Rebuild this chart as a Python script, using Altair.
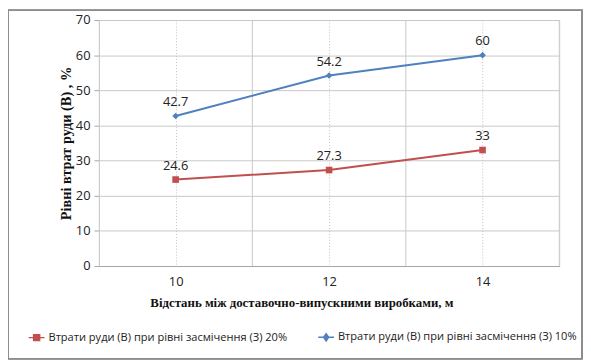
import altair as alt
import pandas as pd

distances = [10, 12, 14]
series_names = [
    "Втрати руди (В) при рівні засмічення (З) 20%",
    "Втрати руди (В) при рівні засмічення (З) 10%",
]
losses_20 = [24.6, 27.3, 33]
losses_10 = [42.7, 54.2, 60]
band_edges = [11, 13, 15]
colors = ["#C0504D", "#4F81BD"]
marker_shapes = ["square", "diamond"]

rows = []
for d, v in zip(distances, losses_20):
    rows.append({"x": d, "y": v, "s": series_names[0], "lab": f"{v:g}"})
for d, v in zip(distances, losses_10):
    rows.append({"x": d, "y": v, "s": series_names[1], "lab": f"{v:g}"})
df = pd.DataFrame(rows)
edges = pd.DataFrame({"x": band_edges})

W, H = 466, 249
PL, PT = 92, 10
TW, TH = 582, 354

xs = alt.Scale(domain=[9, 15], nice=False, zero=False)
ys = alt.Scale(domain=[0, 70], nice=False)

sans = "Open Sans"
serif = "Liberation Serif"

x_axis = alt.Axis(
    values=distances, format="d", title="Відстань між  доставочно-випускними виробками, м",
    grid=True, gridDash=[1, 2], gridColor="#BFBFBF", ticks=False,
    domainColor="#A6A6A6", labelFont=sans, labelFontSize=13, labelColor="#222",
    labelPadding=10, titleFont=serif, titleFontSize=13, titleFontWeight="bold",
    titleColor="#111", titleX=205, titleY=31, titleBaseline="top", titleAnchor="middle",
)
y_axis = alt.Axis(
    values=list(range(0, 71, 10)), format="d", title="Рівні втрат руди (В) , %",
    grid=True, gridColor="#C8C8C8", tickColor="#A6A6A6", tickSize=5,
    domainColor="#C8C8C8", labelFont=sans, labelFontSize=13, labelColor="#222",
    labelPadding=4, labelOverlap=False, titleFont=serif, titleFontSize=14.5,
    titleFontWeight="bold", titleColor="#111", titlePadding=2,
)

X = alt.X("x:Q", scale=xs, axis=x_axis)
Y = alt.Y("y:Q", scale=ys, axis=y_axis)

base = alt.Chart(df)

frame = alt.Chart(edges).mark_rect(fill=None, stroke="#8C8C8C", strokeWidth=1.5).encode(
    x=alt.value(-PL), x2=alt.value(TW - PL - 1), y=alt.value(-PT), y2=alt.value(TH - PT - 1)
)

vlines = alt.Chart(edges).mark_rule(color="#C8C8C8", strokeWidth=1).encode(x=X)

series_layers = []
for name, col, shp in zip(series_names, colors, marker_shapes):
    sub = base.transform_filter(alt.datum.s == name)
    series_layers.append(sub.mark_line(strokeWidth=2, color=col).encode(x=X, y=Y))
    series_layers.append(
        sub.mark_point(filled=True, opacity=1, size=45, strokeWidth=1, color=col, shape=shp).encode(x=X, y=Y)
    )

labels = base.mark_text(baseline="bottom", dy=-7, font=sans, fontSize=13, color="#222").encode(
    x=X, y=Y, text="lab:N"
)

leg = alt.Legend(
    title=None, orient="none", direction="horizontal", legendX=-72, legendY=312,
    labelFont=sans, labelFontSize=11.2, labelColor="#222", labelLimit=400,
    symbolSize=256, symbolStrokeWidth=1.5, columnPadding=28, labelOffset=3,
    symbolOpacity=1,
)
legend_scale_color = alt.Scale(domain=series_names, range=colors)
legend_layer = base.transform_filter("false").mark_point(
    filled=False, size=256, strokeWidth=1.5, opacity=1
).encode(
    x=X, y=Y,
    stroke=alt.Stroke("s:N", scale=legend_scale_color, legend=leg),
    fill=alt.Fill("s:N", scale=legend_scale_color, legend=leg),
    shape=alt.Shape(
        "s:N",
        scale=alt.Scale(
            domain=series_names,
            range=[
                "M-1,0H-0.4M0.4,0H1M-0.38,-0.38H0.38V0.38H-0.38Z",
                "M-1,0H-0.3M0.3,0H1M0,-0.45L0.32,0L0,0.45L-0.32,0Z",
            ],
        ),
        legend=leg,
    ),
)

chart = alt.layer(frame, vlines, *series_layers, labels, legend_layer).properties(
    width=W, height=H,
    autosize=alt.AutoSizeParams(type="none"),
    padding={"left": PL, "top": PT, "right": TW - PL - W, "bottom": TH - PT - H},
).configure_view(stroke=None).configure(background="white")

chart.save("out.html", embed_options={"renderer": "svg", "actions": False})
